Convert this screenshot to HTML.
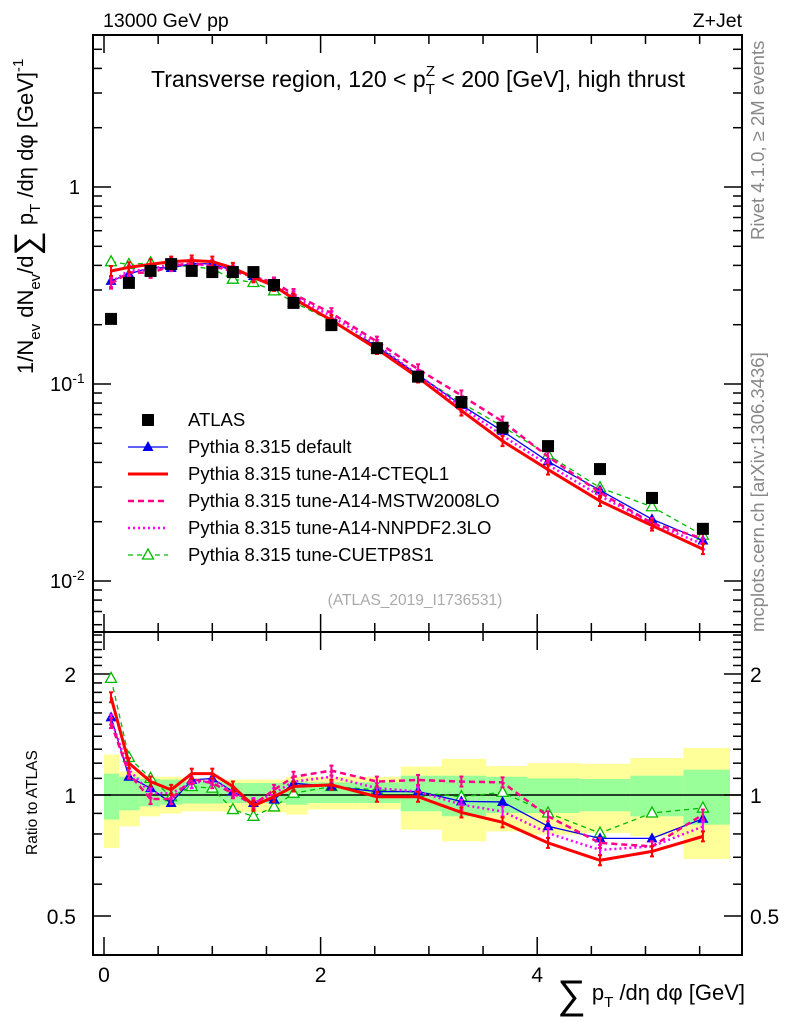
<!DOCTYPE html>
<html><head><meta charset="utf-8">
<style>
html,body{margin:0;padding:0;background:#fff;}
svg{display:block;font-family:"Liberation Sans",sans-serif;}
</style></head>
<body>
<svg id="chart" width="786" height="1024" viewBox="0 0 786 1024" xmlns="http://www.w3.org/2000/svg">
  <g id="bands"></g>
  <g id="axes"></g>
  <g id="series"></g>
  <text x="103" y="27" font-size="19.5">13000 GeV pp</text>
  <text x="742" y="27" font-size="19.5" text-anchor="end">Z+Jet</text>
  <text x="418" y="87" font-size="23" text-anchor="middle">Transverse region, 120 &lt; p<tspan font-size="15" dy="7">T</tspan><tspan font-size="15" dx="-9" dy="-18">Z</tspan><tspan dy="11"> &lt; 200 [GeV], high thrust</tspan></text>
  <text x="415" y="605" font-size="15.5" fill="#aaa" text-anchor="middle">(ATLAS_2019_I1736531)</text>
  <text transform="translate(764,240) rotate(-90)" font-size="18.5" fill="#888">Rivet 4.1.0, ≥ 2M events</text>
  <text transform="translate(764,632) rotate(-90)" font-size="18.5" fill="#888">mcplots.cern.ch [arXiv:1306.3436]</text>
  <text transform="translate(33,374) rotate(-90)" font-size="22">1/N<tspan font-size="15" dy="7">ev</tspan><tspan dy="-7"> dN</tspan><tspan font-size="15" dy="7">ev</tspan><tspan dy="-7">/d</tspan><tspan font-size="34" dy="5">∑</tspan><tspan dy="-5"> p</tspan><tspan font-size="15" dy="7">T</tspan><tspan dy="-7"> /dη dφ  [GeV]</tspan><tspan font-size="15" dy="-10">-1</tspan></text>
  <text transform="translate(37,855) rotate(-90)" font-size="15.5">Ratio to ATLAS</text>
  <text x="745" y="1000" font-size="22" text-anchor="end"><tspan font-size="40" dy="8">∑</tspan><tspan dy="-8"> p</tspan><tspan font-size="15" dy="7">T</tspan><tspan dy="-7"> /dη dφ [GeV]</tspan></text>
  <g id="legend"></g>
</svg>
<script>
const NS="http://www.w3.org/2000/svg";
// ---- data ----
const xCenters=[0.065,0.23,0.43,0.62,0.81,1.0,1.19,1.38,1.57,1.75,2.1,2.52,2.9,3.3,3.68,4.1,4.58,5.06,5.53];
const binEdges=[0,0.14,0.33,0.52,0.72,0.91,1.1,1.3,1.49,1.68,1.88,2.36,2.74,3.12,3.53,3.91,4.39,4.86,5.35,5.78];
const atlasVals=[0.214,0.326,0.375,0.406,0.375,0.370,0.370,0.370,0.318,0.258,0.199,0.152,0.109,0.081,0.060,0.0484,0.037,0.0264,0.0184];
const ratioDefault=[1.56,1.11,1.04,0.955,1.09,1.10,1.02,0.955,0.974,1.07,1.05,1.02,1.02,0.964,0.961,0.836,0.78,0.78,0.873];
const ratioCTEQ=[1.75,1.20,1.08,1.03,1.13,1.13,1.05,0.94,0.99,1.05,1.06,0.99,0.99,0.905,0.855,0.76,0.688,0.724,0.789];
const ratioMSTW=[1.51,1.13,0.977,0.977,1.096,1.07,1.01,0.946,1.03,1.11,1.15,1.08,1.09,1.08,1.075,0.885,0.76,0.745,0.894];
const ratioNNPDF=[1.54,1.156,1.01,1.01,1.07,1.09,1.02,0.955,1.01,1.08,1.11,1.04,1.02,0.946,0.91,0.804,0.73,0.745,0.835];
const ratioCUETP=[1.95,1.24,1.10,0.99,1.05,1.04,0.92,0.885,0.934,1.01,1.05,1.03,1.015,0.99,1.015,0.902,0.804,0.902,0.928];
const yellowUp=[1.26,1.145,1.11,1.11,1.10,1.10,1.092,1.092,1.092,1.11,1.11,1.11,1.178,1.23,1.18,1.20,1.196,1.236,1.309];
const yellowDn=[0.738,0.836,0.885,0.899,0.911,0.911,0.906,0.906,0.906,0.894,0.92,0.92,0.82,0.767,0.812,0.797,0.804,0.789,0.693];
const greenUp=[1.13,1.11,1.096,1.092,1.081,1.081,1.071,1.071,1.071,1.081,1.075,1.075,1.117,1.117,1.11,1.10,1.096,1.117,1.156];
const greenDn=[0.869,0.916,0.937,0.946,0.952,0.952,0.955,0.955,0.955,0.946,0.955,0.955,0.911,0.885,0.902,0.902,0.911,0.885,0.844];
const mainTickVals=[1,0.1,0.01];
const mainTickLabels=[["1",""],["10","-1"],["10","-2"]];
const ratioTickVals=[2,1,0.5];
const ratioTickLabels=["2","1","0.5"];
const xTickVals=[0,2,4];
const xTickLabels=["0","2","4"];

// ---- axes functions ----
const X0=93,X1=742,MT=35,MB=632,RT=632,RB=955;
const xs=v=>104+v*108.3;
const ym=v=>187-197*Math.log10(v);
const yr=v=>795-402*Math.log10(v);

function el(tag,attrs,parent){const e=document.createElementNS(NS,tag);for(const k in attrs)e.setAttribute(k,attrs[k]);parent.appendChild(e);return e;}
const axes=document.getElementById('axes'),series=document.getElementById('series'),bands=document.getElementById('bands'),legend=document.getElementById('legend');

// bands
for(let i=0;i<xCenters.length;i++){
  const x=xs(binEdges[i]),w=xs(binEdges[i+1])-x;
  const y=el('rect',{x:x,y:yr(yellowUp[i]),width:w,height:yr(yellowDn[i])-yr(yellowUp[i]),fill:'#ffff99'},bands);
  
  
  const g=el('rect',{x:x,y:yr(greenUp[i]),width:w,height:yr(greenDn[i])-yr(greenUp[i]),fill:'#99ff99'},bands);
  
  
}
el('line',{x1:X0,x2:X1,y1:yr(1),y2:yr(1),stroke:'#000','stroke-width':1.5},axes);

// frames
el('rect',{x:X0,y:MT,width:X1-X0,height:MB-MT,fill:'none',stroke:'#000','stroke-width':2},axes);
el('rect',{x:X0,y:RT,width:X1-X0,height:RB-RT,fill:'none',stroke:'#000','stroke-width':2},axes);

// main y ticks
for(let d=-3;d<=0;d++)for(let m=1;m<=9;m++){
  const v=m*Math.pow(10,d);const y=ym(v);if(y<MT||y>MB)continue;
  const L=m==1?18:9;
  el('line',{x1:X0,x2:X0+L,y1:y,y2:y,stroke:'#000','stroke-width':1.5},axes);
  el('line',{x1:X1,x2:X1-L,y1:y,y2:y,stroke:'#000','stroke-width':1.5},axes);
}
mainTickVals.forEach((v,i)=>{
  const t=el('text',{x:80,y:ym(v)+7,'font-size':20,'text-anchor':'end'},axes);
  
  
  const lab=mainTickLabels[i];
  if(lab[1]){t.setAttribute('x',50);t.setAttribute('text-anchor','start');t.innerHTML=lab[0]+'<tspan font-size="14" dy="-8">'+lab[1]+'</tspan>';}
  else t.textContent=lab[0];
});
// ratio ticks
for(let k=4;k<=25;k++){
  const v=k/10,y=yr(v);if(y<RT||y>RB)continue;
  const L=(k==5||k==10||k==20)?18:9;
  el('line',{x1:X0,x2:X0+L,y1:y,y2:y,stroke:'#000','stroke-width':1.5},axes);
  el('line',{x1:X1,x2:X1-L,y1:y,y2:y,stroke:'#000','stroke-width':1.5},axes);
}
ratioTickVals.forEach((v,i)=>{
  const t=el('text',{x:76,y:yr(v)+8,'font-size':21,'text-anchor':'end'},axes);
  
  
  t.textContent=ratioTickLabels[i];
  const t2=el('text',{x:750,y:yr(v)+8,'font-size':21},axes);
  
  
  t2.textContent=ratioTickLabels[i];
});
// x ticks
for(let k=0;k<=11;k++){
  const v=k/2,x=xs(v);const L=(k%4==0)?18:9;
  [[MB,-1],[RB,-1],[MT,1],[RT,1]].forEach(([y0,s])=>el('line',{x1:x,x2:x,y1:y0,y2:y0+s*L,stroke:'#000','stroke-width':1.5},axes));
}
xTickVals.forEach((v,i)=>{
  const t=el('text',{x:xs(v),y:982,'font-size':21,'text-anchor':'middle'},axes);
  
  
  t.textContent=xTickLabels[i];
});

// series
const specs=[
 {name:'cuetp8s1',r:ratioCUETP,c:'#00bb00',w:1.3,dash:'5,4',mk:'otri'},
 {name:'default',r:ratioDefault,c:'#0000ee',w:1.3,dash:'',mk:'tri'},
 {name:'nnpdf',r:ratioNNPDF,c:'#ff00ff',w:2.5,dash:'2,3',mk:'err'},
 {name:'mstw',r:ratioMSTW,c:'#ff0088',w:2.5,dash:'6,4',mk:'err'},
 {name:'cteql1',r:ratioCTEQ,c:'#ff0000',w:3,dash:'',mk:'err'}
];
function marker(mk,x,y,c,g){
  if(mk=='tri'){el('polygon',{points:`${x},${y-6} ${x-5.5},${y+4} ${x+5.5},${y+4}`,fill:c},g);}
  else if(mk=='otri'){el('polygon',{points:`${x},${y-6} ${x-5.5},${y+4} ${x+5.5},${y+4}`,fill:'#fff',stroke:c,'stroke-width':1.3},g);}
  else {el('line',{x1:x,x2:x,y1:y-5,y2:y+5,stroke:c,'stroke-width':2},g);
        el('line',{x1:x-2,x2:x+2,y1:y-5,y2:y-5,stroke:c,'stroke-width':2},g);
        el('line',{x1:x-2,x2:x+2,y1:y+5,y2:y+5,stroke:c,'stroke-width':2},g);}
}
specs.forEach(s=>{
  ['main','ratio'].forEach(panel=>{
    const g=el('g',{},series);
    
    
    const pts=xCenters.map((x,i)=>[xs(x),panel=='main'?ym(atlasVals[i]*s.r[i]):yr(s.r[i])]);
    const p=el('polyline',{points:pts.map(p=>p.join(',')).join(' '),fill:'none',stroke:s.c,'stroke-width':s.w},g);
    if(s.dash)p.setAttribute('stroke-dasharray',s.dash);
    
    
    pts.forEach(([x,y])=>marker(s.mk,x,y,s.c,g));
  });
});
// atlas
const ag=el('g',{},series);


xCenters.forEach((x,i)=>{
  const r=el('rect',{x:xs(x)-6,y:ym(atlasVals[i])-6,width:12,height:12,fill:'#000'},ag);
  
  
});

// legend
const legItems=[
 ['ATLAS','sq','#000','',0],
 ['Pythia 8.315 default','tri','#0000ee','',1.3],
 ['Pythia 8.315 tune-A14-CTEQL1','line','#ff0000','',3],
 ['Pythia 8.315 tune-A14-MSTW2008LO','line','#ff0088','6,4',2.5],
 ['Pythia 8.315 tune-A14-NNPDF2.3LO','line','#ff00ff','2,3',2.5],
 ['Pythia 8.315 tune-CUETP8S1','otri','#00bb00','5,4',1.3]
];
legItems.forEach((it,i)=>{
  const y=420+i*27;
  const g=el('g',{},legend);
  
  
  if(it[1]=='sq'){el('rect',{x:142,y:y-6,width:12,height:12,fill:'#000'},g);}
  else{
    const l=el('line',{x1:128,x2:168,y1:y,y2:y,stroke:it[2],'stroke-width':it[4]},g);
    if(it[3])l.setAttribute('stroke-dasharray',it[3]);
    if(it[1]=='tri'||it[1]=='otri')marker(it[1],148,y,it[2],g);
  }
  const t=el('text',{x:188,y:y+6,'font-size':18.5},g);
  t.textContent=it[0];
});
</script>
</body></html>
